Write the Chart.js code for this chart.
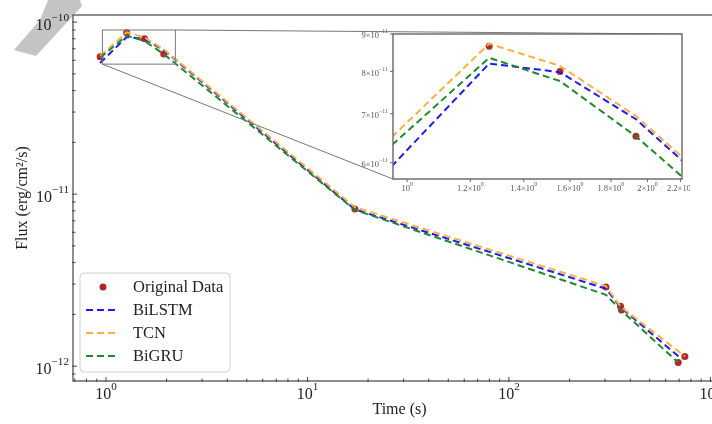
<!DOCTYPE html>
<html>
<head>
<meta charset="utf-8">
<script src="https://cdn.jsdelivr.net/npm/chart.js@4.4.1/dist/chart.umd.min.js"></script>
<style>
  html, body { margin: 0; padding: 0; background: #fff; overflow: hidden; }
  #wrap { position: relative; width: 712px; height: 424px; overflow: hidden; }
  #main { position: absolute; left: 0; top: 0; }
  #inset { position: absolute; left: 340px; top: 25px; }
</style>
</head>
<body>
<div id="wrap">
  <canvas id="main" width="740" height="424"></canvas>
  <canvas id="inset" width="350" height="175"></canvas>
</div>
<script>
// values
const obsTimes = [0.935, 1.267, 1.554, 1.935, 17.2, 303, 358, 362, 692, 747];
const obsFlux  = [6.3e-11, 8.66e-11, 8.0e-11, 6.52e-11, 8.2e-12, 2.89e-12, 2.23e-12, 2.12e-12, 1.05e-12, 1.14e-12];

const modelTimes = [0.935, 1.267, 1.554, 1.935, 17.2, 303, 358];
const endTimes   = [720, 747, 692]; // BiLSTM, TCN, BiGRU
const bilstmFlux = [5.78e-11, 8.2e-11, 7.98e-11, 6.88e-11, 8.15e-12, 2.82e-12, 2.2e-12, 1.1e-12];
const tcnFlux    = [6.35e-11, 8.73e-11, 8.14e-11, 6.95e-11, 8.4e-12, 2.92e-12, 2.22e-12, 1.14e-12];
const bigruFlux  = [6.2e-11, 8.35e-11, 7.76e-11, 6.52e-11, 8.1e-12, 2.6e-12, 2.13e-12, 1.05e-12];

const seriesNames  = ['BiLSTM', 'TCN', 'BiGRU'];
const seriesColors = ['#1c1cf2', '#fbb040', '#22882a'];
const dotColor = '#b3262c';

const insetX = [0.96, 2.21];
const insetY = [5.7e-11, 9e-11];
const insetXTicks = [1, 1.2, 1.4, 1.6, 1.8, 2, 2.2];
const insetYTicks = [6e-11, 7e-11, 8e-11, 9e-11];

const serif = '"Liberation Serif", "Times New Roman", serif';
const MINUS = '\u2212';

function pts(xs, ys) { return xs.map((x, i) => ({ x: x, y: ys[i] })); }

function buildDatasets(r) {
  const fluxes = [bilstmFlux, tcnFlux, bigruFlux];
  const sets = [{
    label: 'Original Data', data: pts(obsTimes, obsFlux),
    backgroundColor: dotColor, borderColor: dotColor,
    pointRadius: r, borderWidth: 0, showLine: false, order: 4
  }];
  fluxes.forEach((f, i) => {
    sets.push({
      label: seriesNames[i], data: pts(modelTimes.concat([endTimes[i]]), f),
      borderColor: seriesColors[i], backgroundColor: seriesColors[i],
      borderWidth: 2, borderDash: [7, 4], pointRadius: 0, showLine: true,
      order: 3 - i
    });
  });
  return sets;
}

// "10" with a raised exponent, y = vertical centre of the base text
function drawPow(ctx, base, exp, x, y, size, align) {
  const sup = size * 0.7;
  ctx.font = size + 'px ' + serif;
  const wb = ctx.measureText(base).width;
  ctx.font = sup + 'px ' + serif;
  const we = ctx.measureText(exp).width;
  const x0 = align === 'right' ? x - wb - we : x - (wb + we) / 2;
  ctx.textAlign = 'left';
  ctx.textBaseline = 'middle';
  ctx.font = size + 'px ' + serif;
  ctx.fillText(base, x0, y);
  ctx.font = sup + 'px ' + serif;
  ctx.fillText(exp, x0 + wb, y - size * 0.5);
}

function logTicks(min, max) {
  const major = [], minor = [];
  for (let e = Math.floor(Math.log10(min)); e <= Math.ceil(Math.log10(max)); e++) {
    for (let m = 1; m < 10; m++) {
      const v = m * Math.pow(10, e);
      if (v < min * 0.9999 || v > max * 1.0001) continue;
      (m === 1 ? major : minor).push(v);
    }
  }
  return { major, minor };
}

function expText(v) {
  const e = Math.round(Math.log10(v));
  return e < 0 ? MINUS + Math.abs(e) : String(e);
}

// ---------- inset ----------
const insetPlugin = {
  id: 'insetDeco',
  beforeDraw(chart) {
    const { ctx, chartArea: a } = chart;
    ctx.save();
    ctx.fillStyle = '#fff';
    ctx.fillRect(a.left, a.top, a.right - a.left, a.bottom - a.top);
    ctx.restore();
  },
  afterDraw(chart) {
    const { ctx, chartArea: a, scales } = chart;
    ctx.save();
    ctx.strokeStyle = '#666';
    ctx.lineWidth = 1.4;
    ctx.strokeRect(a.left, a.top, a.right - a.left, a.bottom - a.top);
    ctx.fillStyle = '#555';
    ctx.lineWidth = 1;
    insetXTicks.forEach(v => {
      const px = scales.x.getPixelForValue(v);
      ctx.beginPath(); ctx.moveTo(px, a.bottom); ctx.lineTo(px, a.bottom + 3); ctx.stroke();
      const base = v === 1 ? '10' : v + '\u00d710';
      drawPow(ctx, base, '0', px, a.bottom + 10, 8.5, 'center');
    });
    insetYTicks.forEach(v => {
      const py = scales.y.getPixelForValue(v);
      ctx.beginPath(); ctx.moveTo(a.left, py); ctx.lineTo(a.left - 3, py); ctx.stroke();
      const m = Math.round(v / 1e-11);
      drawPow(ctx, m + '\u00d710', MINUS + '11', a.left - 5, py + 2, 8.5, 'right');
    });
    ctx.restore();
  }
};

const insetChart = new Chart(document.getElementById('inset'), {
  type: 'scatter',
  data: { datasets: buildDatasets(3.5) },
  options: {
    responsive: false, animation: false, devicePixelRatio: 1,
    layout: { padding: { left: 53, top: 9, right: 8, bottom: 21 } },
    plugins: { legend: { display: false }, tooltip: { enabled: false } },
    elements: { line: { tension: 0 } },
    scales: {
      x: { type: 'logarithmic', min: insetX[0], max: insetX[1], display: false },
      y: { type: 'logarithmic', min: insetY[0], max: insetY[1], display: false }
    }
  },
  plugins: [insetPlugin]
});

// ---------- main ----------
const mainPlugin = {
  id: 'mainDeco',
  beforeDraw(chart) {
    const ctx = chart.ctx;
    ctx.save();
    ctx.fillStyle = '#fff';
    ctx.fillRect(0, 0, chart.width, chart.height);
    // grey smudge in the top-left corner of the scan
    ctx.fillStyle = '#c4c4c4';
    ctx.beginPath();
    ctx.moveTo(48, 0); ctx.lineTo(80, 0); ctx.lineTo(82, 6);
    ctx.lineTo(36, 56); ctx.lineTo(14, 50); ctx.lineTo(40, 20);
    ctx.closePath(); ctx.fill();
    ctx.restore();
  },
  afterDraw(chart) {
    const { ctx, chartArea: a, scales } = chart;
    const xs = scales.x, ys = scales.y;
    ctx.save();

    // frame
    ctx.strokeStyle = '#444';
    ctx.lineWidth = 1.2;
    ctx.strokeRect(a.left, a.top, a.right - a.left, a.bottom - a.top);

    // ticks
    const xt = logTicks(xs.min, xs.max), yt = logTicks(ys.min, ys.max);
    ctx.lineWidth = 1;
    xt.major.forEach(v => {
      const px = xs.getPixelForValue(v);
      ctx.beginPath(); ctx.moveTo(px, a.bottom + 1); ctx.lineTo(px, a.bottom - 4); ctx.stroke();
    });
    xt.minor.forEach(v => {
      const px = xs.getPixelForValue(v);
      ctx.beginPath(); ctx.moveTo(px, a.bottom + 1); ctx.lineTo(px, a.bottom - 2.5); ctx.stroke();
    });
    yt.major.forEach(v => {
      const py = ys.getPixelForValue(v);
      ctx.beginPath(); ctx.moveTo(a.left - 1, py); ctx.lineTo(a.left + 4, py); ctx.stroke();
    });
    yt.minor.forEach(v => {
      const py = ys.getPixelForValue(v);
      ctx.beginPath(); ctx.moveTo(a.left - 1, py); ctx.lineTo(a.left + 2.5, py); ctx.stroke();
    });

    // tick labels
    ctx.fillStyle = '#222';
    xt.major.forEach(v => drawPow(ctx, '10', expText(v), xs.getPixelForValue(v), a.bottom + 14, 16, 'center'));
    yt.major.forEach(v => drawPow(ctx, '10', expText(v), 69, ys.getPixelForValue(v) + 4, 16, 'right'));

    // axis titles
    ctx.font = '16px ' + serif;
    ctx.textAlign = 'center';
    ctx.textBaseline = 'middle';
    ctx.fillText('Time (s)', (a.left + 726) / 2, 410);
    ctx.translate(23, (a.top + a.bottom) / 2);
    ctx.rotate(-Math.PI / 2);
    ctx.fillText('Flux (erg/cm\u00b2/s)', 0, 0);
    ctx.setTransform(1, 0, 0, 1, 0, 0);

    // zoom box and connectors to the inset
    const rx0 = xs.getPixelForValue(insetX[0]), rx1 = xs.getPixelForValue(insetX[1]);
    const ry0 = ys.getPixelForValue(insetY[0]), ry1 = ys.getPixelForValue(insetY[1]);
    const ia = insetChart.chartArea, il = 340, it = 25;
    ctx.strokeStyle = '#777';
    ctx.lineWidth = 1;
    ctx.strokeRect(rx0, ry1, rx1 - rx0, ry0 - ry1);
    ctx.beginPath();
    ctx.moveTo(rx0, ry0); ctx.lineTo(il + ia.left, it + ia.bottom);
    ctx.moveTo(rx1, ry1); ctx.lineTo(il + ia.right, it + ia.top);
    ctx.stroke();

    // legend
    const lx = 80, ly = 273, lw = 150, lh = 99;
    ctx.fillStyle = 'rgba(255,255,255,0.85)';
    ctx.strokeStyle = '#d0d0d0';
    ctx.beginPath();
    ctx.roundRect(lx, ly, lw, lh, 4);
    ctx.fill(); ctx.stroke();
    const rows = [287, 310, 333, 356];
    ctx.fillStyle = dotColor;
    ctx.beginPath(); ctx.arc(103, rows[0], 3.5, 0, Math.PI * 2); ctx.fill();
    ctx.lineWidth = 2;
    seriesNames.forEach((n, i) => {
      ctx.strokeStyle = seriesColors[i];
      ctx.setLineDash([7, 4]);
      ctx.beginPath(); ctx.moveTo(86, rows[i + 1]); ctx.lineTo(118, rows[i + 1]); ctx.stroke();
    });
    ctx.setLineDash([]);
    ctx.fillStyle = '#222';
    ctx.font = '16.5px ' + serif;
    ctx.textAlign = 'left';
    ctx.textBaseline = 'middle';
    ['Original Data'].concat(seriesNames).forEach((t, i) => ctx.fillText(t, 133, rows[i] + 1));

    ctx.restore();
  }
};

new Chart(document.getElementById('main'), {
  type: 'scatter',
  data: { datasets: buildDatasets(3.5) },
  options: {
    responsive: false, animation: false, devicePixelRatio: 1,
    layout: { padding: { left: 73, top: 15, right: 14, bottom: 43 } },
    plugins: { legend: { display: false }, tooltip: { enabled: false } },
    elements: { line: { tension: 0 } },
    scales: {
      x: { type: 'logarithmic', min: 0.686, max: 1195, display: false },
      y: { type: 'logarithmic', min: 8.2e-13, max: 1.1e-10, display: false }
    }
  },
  plugins: [mainPlugin]
});
</script>
</body>
</html>
